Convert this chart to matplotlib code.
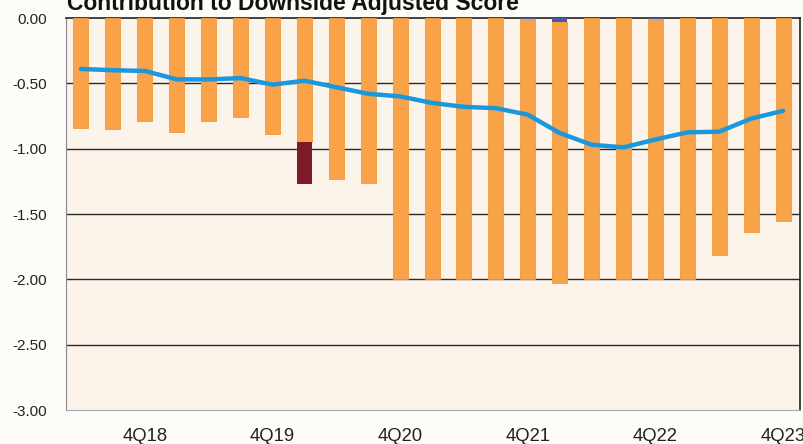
import matplotlib
matplotlib.use("Agg")
import matplotlib.pyplot as plt
import numpy as np

quarters = ['2Q18', '3Q18', '4Q18', '1Q19', '2Q19', '3Q19', '4Q19', '1Q20',
            '2Q20', '3Q20', '4Q20', '1Q21', '2Q21', '3Q21', '4Q21', '1Q22',
            '2Q22', '3Q22', '4Q22', '1Q23', '2Q23', '3Q23', '4Q23']
blue_part = [0, 0, 0, 0, 0, 0, 0, 0, 0, 0, 0, 0, 0, 0,
             -0.01, -0.03, 0, 0, -0.01, 0, 0, 0, 0]
orange_part = [-0.84, -0.85, -0.79, -0.87, -0.785, -0.755, -0.89, -0.95,
               -1.23, -1.265, -2.0, -2.0, -2.0, -2.0, -1.99, -2.0,
               -2.0, -2.0, -1.99, -2.0, -1.81, -1.64, -1.55]
red_part = [0, 0, 0, 0, 0, 0, 0, -0.32, 0, 0, 0, 0, 0, 0, 0, 0,
            0, 0, 0, 0, 0, 0, 0]
line_vals = [-0.39, -0.40, -0.405, -0.47, -0.47, -0.46, -0.51, -0.48,
             -0.53, -0.58, -0.60, -0.65, -0.68, -0.69, -0.74, -0.88,
             -0.97, -0.99, -0.93, -0.875, -0.87, -0.77, -0.71]
tick_labels = ['4Q18', '4Q19', '4Q20', '4Q21', '4Q22', '4Q23']
y_ticks = [0.0, -0.5, -1.0, -1.5, -2.0, -2.5, -3.0]

plt.rcParams['font.family'] = ['Liberation Sans', 'DejaVu Sans']

fig = plt.figure(figsize=(8.04, 4.44), dpi=100, facecolor='#fefcf9')
ax = fig.add_axes([66/804, 1-410/444, (800-66)/804, (410-18)/444])
ax.set_facecolor('#fcf4ea')

x = np.arange(len(quarters))
blue = np.array(blue_part)
orange = np.array(orange_part)
red = np.array(red_part)
w = 0.47
ax.bar(x, blue, width=w, color='#4a5a9c', zorder=3)
ax.bar(x, orange, width=w, bottom=blue, color='#f8a249', edgecolor='#f39a35',
       linewidth=0.6, zorder=3)
ax.bar(x, red, width=w, bottom=blue + orange, color='#7e1b28', zorder=3)
ax.plot(x, line_vals, color='#1a97dd', linewidth=3.2, zorder=5,
        solid_joinstyle='round', solid_capstyle='round')

ax.set_ylim(-3.0, 0.0)
ax.set_xlim(-0.47, 22.53)
ax.set_yticks(y_ticks)
ax.set_yticklabels([f'{v:.2f}' for v in y_ticks], fontsize=11)
tick_pos = [quarters.index(t) for t in tick_labels]
ax.set_xticks(tick_pos)
ax.set_xticklabels(tick_labels, fontsize=13.3)
ax.tick_params(axis='y', length=0, pad=14, colors='#222222')
ax.tick_params(axis='x', length=0, pad=13, colors='#222222')

for v in y_ticks[1:-1]:
    ax.axhline(v, color='#2a2a2a', linewidth=1.0, zorder=1)

ax.spines['top'].set_color('#222222')
ax.spines['top'].set_linewidth(1.2)
ax.spines['right'].set_color('#222222')
ax.spines['right'].set_linewidth(1.2)
ax.spines['left'].set_color('#888888')
ax.spines['left'].set_linewidth(0.8)
ax.spines['bottom'].set_color('#aaaaaa')
ax.spines['bottom'].set_linewidth(0.8)

fig.text(67/804, 1-10/444, 'Contribution to Downside Adjusted Score',
         fontsize=16.5, fontweight='bold', ha='left', va='baseline', color='#111111')

fig.savefig('out.png', dpi=100, facecolor=fig.get_facecolor())
